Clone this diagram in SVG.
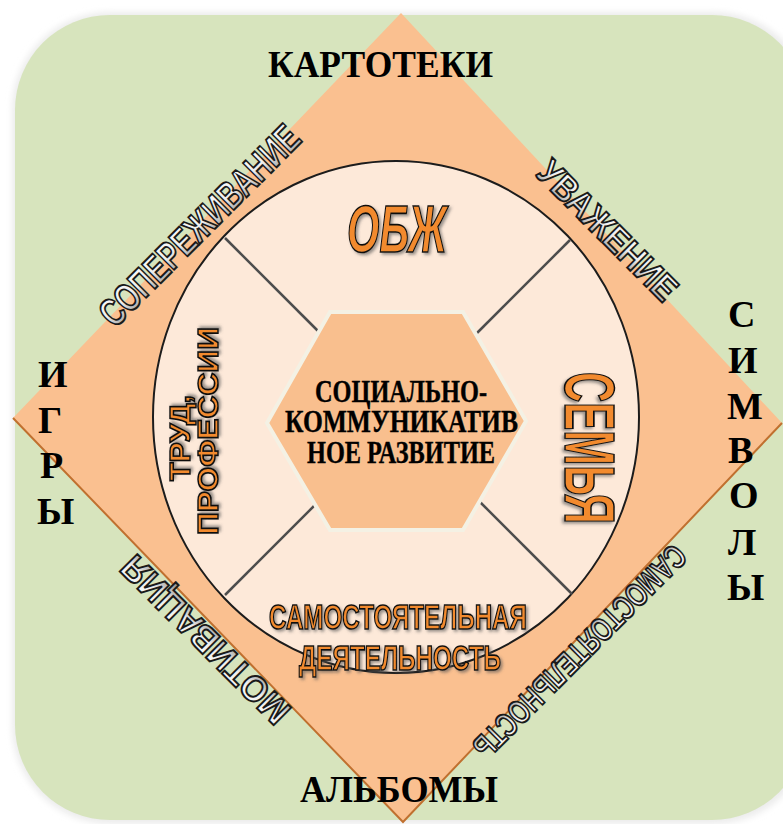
<svg xmlns="http://www.w3.org/2000/svg" width="783" height="824" viewBox="0 0 783 824">
<defs>
<style>
.outer{font-family:"Liberation Serif","Times New Roman",serif;font-weight:bold;font-size:38px;fill:#000}
.art{font-family:"Liberation Sans",Arial,sans-serif;font-weight:bold;fill:url(#gw);stroke:#1a1a1a;stroke-width:2px;text-anchor:middle}
.org{font-family:"Liberation Sans",Arial,sans-serif;font-weight:bold;fill:#F28A2E;stroke:#111;stroke-width:1.6px;filter:url(#sh);text-anchor:middle}
.div{stroke:#4d4d4d;stroke-width:2.5;fill:none}
.hex{font-family:"Liberation Serif","Times New Roman",serif;font-weight:bold;font-size:31px;fill:#000;stroke:#000;stroke-width:0.4px}
</style>
<linearGradient id="gw" x1="0" y1="0" x2="0" y2="1">
<stop offset="0" stop-color="#ffffff"/>
<stop offset="0.5" stop-color="#eeeeee"/>
<stop offset="1" stop-color="#8a8a8a"/>
</linearGradient>
<filter id="sh" x="-10%" y="-20%" width="130%" height="150%">
<feDropShadow dx="2" dy="2" stdDeviation="1.5" flood-color="#555" flood-opacity="0.6"/>
</filter>
<filter id="glow" x="-5%" y="-5%" width="110%" height="110%">
<feGaussianBlur stdDeviation="3"/>
</filter>
</defs>

<g id="background">
<rect x="12" y="12" width="800" height="812" rx="98" fill="#ececec" filter="url(#glow)"/>
<rect x="15" y="15" width="792" height="805" rx="95" fill="#D7E4BD"/>
</g>

<g id="diamond">
<polygon points="401,13 782,423 403,822 13,418" fill="#FAC090"/>
<polyline points="13,418 403,822 782,423" fill="none" stroke="#C0702F" stroke-width="2"/>
</g>

<g id="circle">
<ellipse cx="396" cy="417" rx="243" ry="256" fill="#FDE9D9" stroke="#1c1c1c" stroke-width="2"/>
</g>

<g id="connectors">
<line class="div" x1="225" y1="238" x2="319" y2="332"/>
<line class="div" x1="570" y1="240" x2="476" y2="334"/>
<line class="div" x1="225" y1="595" x2="315" y2="505"/>
<line class="div" x1="572" y1="594" x2="480" y2="502"/>
</g>

<g id="hexagon">
<polygon points="330,312 463,312 526,421 463,530 330,530 267,423" fill="#F9BF8E" stroke="#F4F1E4" stroke-width="4"/>
<text class="hex" x="315" y="402" textLength="172" lengthAdjust="spacingAndGlyphs">СОЦИАЛЬНО-</text>
<text class="hex" x="285" y="432" textLength="233" lengthAdjust="spacingAndGlyphs">КОММУНИКАТИВ</text>
<text class="hex" x="307" y="463" textLength="188" lengthAdjust="spacingAndGlyphs">НОЕ РАЗВИТИЕ</text>
</g>

<g id="label-kartoteki">
<text class="outer" x="268" y="77" font-size="40" textLength="225" lengthAdjust="spacingAndGlyphs">КАРТОТЕКИ</text>
</g>
<g id="label-albomy">
<text class="outer" x="300" y="802" textLength="198" lengthAdjust="spacingAndGlyphs">АЛЬБОМЫ</text>
</g>
<g id="label-simvoly">
<text class="outer" x="728" y="327">С</text>
<text class="outer" x="728" y="373">И</text>
<text class="outer" x="727" y="419">М</text>
<text class="outer" x="728" y="463">В</text>
<text class="outer" x="729" y="508">О</text>
<text class="outer" x="728" y="555">Л</text>
<text class="outer" x="727" y="600">Ы</text>
</g>
<g id="label-igry">
<text class="outer" x="38" y="387">И</text>
<text class="outer" x="38" y="433">Г</text>
<text class="outer" x="40" y="478">Р</text>
<text class="outer" x="37" y="524">Ы</text>
</g>

<g id="label-soperezhivanie">
<text class="art" transform="translate(199,225) rotate(-45)" y="14" font-size="39" textLength="266" lengthAdjust="spacingAndGlyphs">СОПЕРЕЖИВАНИЕ</text>
</g>
<g id="label-uvazhenie">
<text class="art" transform="translate(608,230) rotate(45)" y="13" font-size="36" textLength="182" lengthAdjust="spacingAndGlyphs">УВАЖЕНИЕ</text>
</g>
<g id="label-motivatsiya">
<text class="art" transform="translate(205,640) rotate(-135)" y="13" font-size="36" textLength="222" lengthAdjust="spacingAndGlyphs">МОТИВАЦИЯ</text>
</g>
<g id="label-samostoyatelnost">
<text class="art" transform="translate(580,652) rotate(135)" y="12" font-size="33" textLength="286" lengthAdjust="spacingAndGlyphs">САМОСТОЯТЕЛЬНОСТЬ</text>
</g>

<g id="sector-obzh">
<text class="org" x="397" y="252" font-size="66" font-style="italic" textLength="100" lengthAdjust="spacingAndGlyphs">ОБЖ</text>
</g>
<g id="sector-semya">
<text class="org" transform="translate(590,448) rotate(90)" y="25" font-size="70" textLength="152" lengthAdjust="spacingAndGlyphs">СЕМЬЯ</text>
</g>
<g id="sector-trud">
<text class="org" transform="translate(180,438) rotate(-90)" y="10" font-size="29" textLength="86" lengthAdjust="spacingAndGlyphs">ТРУД,</text>
<text class="org" transform="translate(208,431) rotate(-90)" y="10" font-size="29" textLength="208" lengthAdjust="spacingAndGlyphs">ПРОФЕССИИ</text>
</g>
<g id="sector-samostoyatelnaya">
<text class="org" x="398" y="629" font-size="35" textLength="258" lengthAdjust="spacingAndGlyphs">САМОСТОЯТЕЛЬНАЯ</text>
<text class="org" x="400" y="670" font-size="35" textLength="202" lengthAdjust="spacingAndGlyphs">ДЕЯТЕЛЬНОСТЬ</text>
</g>
</svg>
